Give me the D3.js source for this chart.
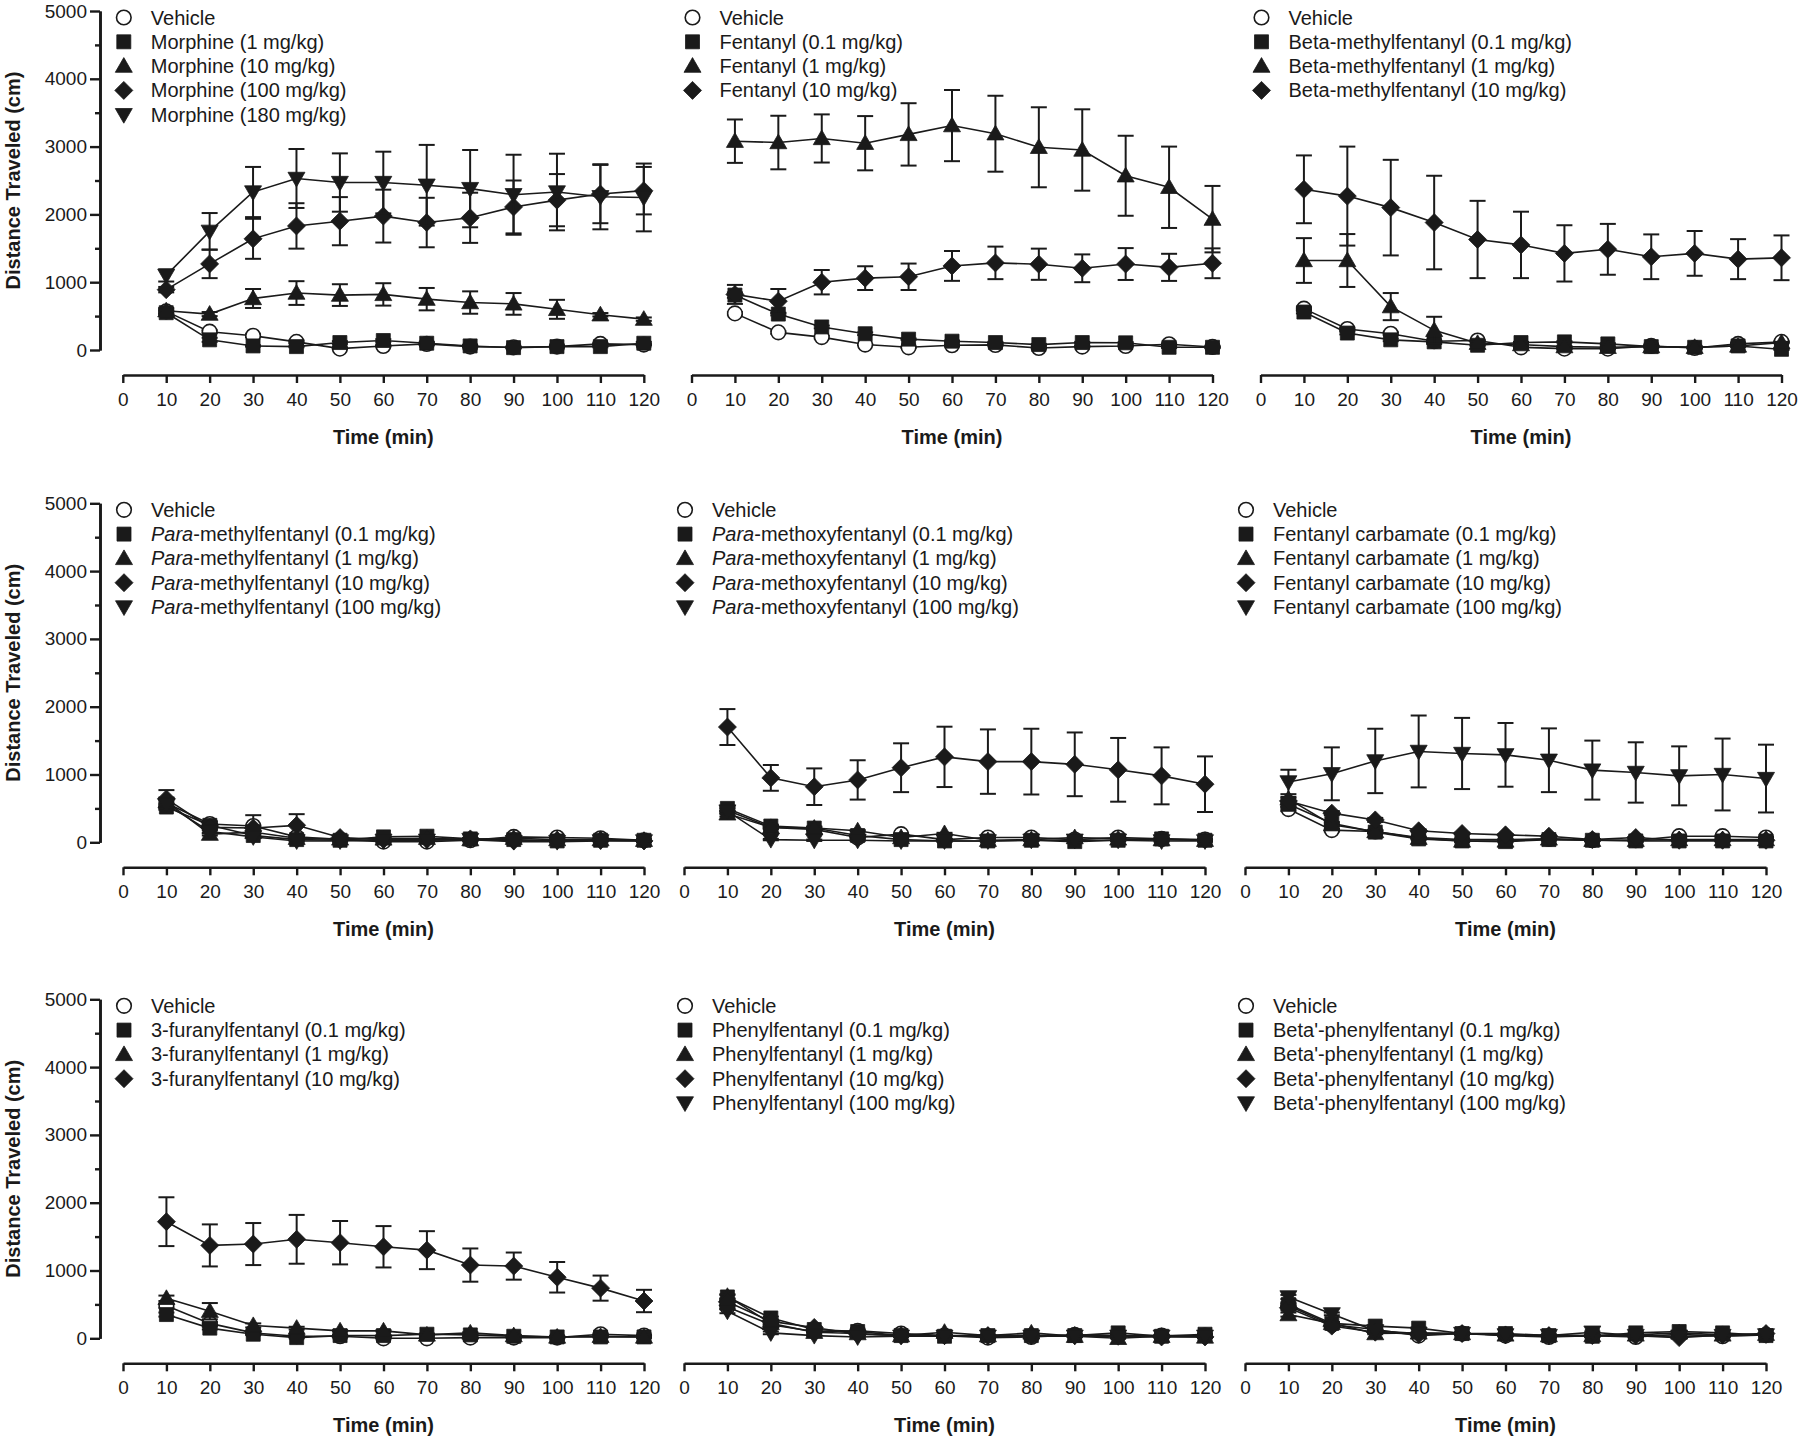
<!DOCTYPE html>
<html>
<head>
<meta charset="utf-8">
<script src="https://cdn.jsdelivr.net/npm/d3@7"></script>
<style>
  html, body { margin: 0; padding: 0; background: #fff; }
  svg { display: block; }
  text { font-family: "Liberation Sans", Arial, Helvetica, sans-serif; fill: #1a1a1a; }
</style>
</head>
<body>
<svg id="chart" width="1800" height="1440"></svg>
<script>
// ---------------- DATA ----------------
const timePoints = [10, 20, 30, 40, 50, 60, 70, 80, 90, 100, 110, 120];
const xTickValues = [0, 10, 20, 30, 40, 50, 60, 70, 80, 90, 100, 110, 120];
const yTickValues = [0, 1000, 2000, 3000, 4000, 5000];
const yMinorTickValues = [500, 1500, 2500, 3500, 4500];
const yAxisTitle = "Distance Traveled (cm)";
const xAxisTitle = "Time (min)";
// marker shape per series (by position in each panel)
const seriesShapes = ["circle", "square", "triangle", "diamond", "triangleDown"];

// Panel A: Morphine
const labelsA = ["Vehicle", "Morphine (1 mg/kg)", "Morphine (10 mg/kg)", "Morphine (100 mg/kg)", "Morphine (180 mg/kg)"];
const meansA = [
  [570, 270, 210, 120, 20, 60, 90, 50, 40, 50, 90, 80],
  [550, 150, 60, 50, 110, 140, 100, 60, 35, 50, 50, 100],
  [580, 530, 760, 840, 810, 820, 750, 700, 680, 600, 520, 455],
  [890, 1270, 1640, 1830, 1900, 1975, 1880, 1950, 2110, 2210, 2300, 2350],
  [1100, 1750, 2330, 2530, 2470, 2470, 2430, 2380, 2290, 2330, 2260, 2250]
];
const errorsA = [
  [30, 20, 20, 20, 10, 10, 10, 10, 10, 10, 10, 10],
  [30, 30, 10, 10, 20, 20, 20, 10, 10, 10, 10, 20],
  [40, 30, 140, 175, 160, 165, 165, 165, 160, 140, 25, 25],
  [40, 210, 295, 335, 355, 390, 365, 370, 390, 385, 430, 350],
  [90, 270, 370, 435, 430, 455, 595, 570, 590, 565, 480, 500]
];

// Panel B: Fentanyl
const labelsB = ["Vehicle", "Fentanyl (0.1 mg/kg)", "Fentanyl (1 mg/kg)", "Fentanyl (10 mg/kg)"];
const meansB = [
  [540, 260, 190, 80, 40, 70, 75, 30, 50, 60, 85, 45],
  [810, 530, 340, 240, 160, 130, 110, 80, 110, 106, 40, 40],
  [3080, 3060, 3120, 3050, 3180, 3310, 3190, 2990, 2950, 2570, 2400, 1930],
  [820, 720, 1000, 1060, 1080, 1240, 1285, 1265, 1205, 1268, 1219, 1279]
];
const errorsB = [
  [20, 20, 20, 10, 10, 10, 10, 10, 10, 10, 10, 10],
  [40, 20, 20, 20, 10, 10, 10, 10, 10, 10, 10, 10],
  [320, 395, 355, 400, 460, 525, 560, 590, 600, 590, 600, 490],
  [140, 180, 180, 175, 195, 220, 240, 230, 205, 235, 200, 220]
];

// Panel C: Beta-methylfentanyl
const labelsC = ["Vehicle", "Beta-methylfentanyl (0.1 mg/kg)", "Beta-methylfentanyl (1 mg/kg)", "Beta-methylfentanyl (10 mg/kg)"];
const meansC = [
  [610, 310, 240, 130, 140, 40, 20, 20, 60, 30, 90, 120],
  [560, 250, 150, 120, 70, 110, 120, 90, 50, 40, 60, 10],
  [1320, 1320, 640, 290, 100, 80, 50, 40, 50, 40, 60, 110],
  [2370, 2270, 2100, 1880, 1630, 1550, 1425, 1485, 1375, 1425, 1340, 1360]
];
const errorsC = [
  [20, 20, 20, 10, 10, 10, 10, 10, 10, 10, 10, 10],
  [20, 20, 20, 10, 10, 10, 10, 10, 10, 10, 10, 10],
  [330, 390, 200, 200, 20, 10, 10, 10, 10, 10, 10, 10],
  [500, 730, 705, 690, 570, 490, 415, 375, 330, 330, 295, 330]
];

// Panel D: Para-methylfentanyl
const labelsD = ["Vehicle", "Para-methylfentanyl (0.1 mg/kg)", "Para-methylfentanyl (1 mg/kg)", "Para-methylfentanyl (10 mg/kg)", "Para-methylfentanyl (100 mg/kg)"];
const meansD = [
  [580, 270, 240, 80, 40, 10, 10, 30, 80, 70, 60, 30],
  [520, 250, 100, 40, 30, 80, 90, 50, 40, 20, 30, 30],
  [600, 120, 150, 60, 50, 50, 60, 40, 60, 40, 40, 30],
  [640, 220, 210, 250, 70, 40, 40, 50, 20, 30, 30, 20],
  [560, 160, 80, 20, 20, 30, 30, 40, 10, 10, 20, 20]
];
const errorsD = [
  [60, 40, 160, 20, 10, 10, 10, 10, 10, 10, 10, 10],
  [40, 30, 20, 10, 10, 10, 10, 10, 10, 10, 10, 10],
  [60, 20, 20, 20, 10, 10, 10, 10, 10, 10, 10, 10],
  [130, 40, 40, 165, 20, 10, 10, 10, 10, 10, 10, 10],
  [60, 30, 20, 10, 10, 10, 10, 10, 10, 10, 10, 10]
];

// Panel E: Para-methoxyfentanyl
const labelsE = ["Vehicle", "Para-methoxyfentanyl (0.1 mg/kg)", "Para-methoxyfentanyl (1 mg/kg)", "Para-methoxyfentanyl (10 mg/kg)", "Para-methoxyfentanyl (100 mg/kg)"];
const meansE = [
  [470, 220, 190, 70, 120, 40, 70, 70, 40, 70, 50, 40],
  [500, 240, 210, 100, 40, 20, 20, 30, 10, 30, 50, 30],
  [420, 220, 210, 170, 70, 130, 30, 40, 70, 50, 40, 30],
  [1700, 950, 820, 920, 1100, 1260, 1190, 1190, 1150, 1069, 980, 857],
  [460, 40, 30, 30, 20, 20, 20, 30, 30, 30, 20, 20]
];
const errorsE = [
  [40, 20, 20, 10, 10, 10, 10, 10, 10, 10, 10, 10],
  [40, 20, 20, 10, 10, 10, 10, 10, 10, 10, 10, 10],
  [40, 20, 20, 10, 10, 10, 10, 10, 10, 10, 10, 10],
  [265, 190, 270, 290, 360, 445, 475, 485, 470, 470, 420, 410],
  [40, 10, 10, 10, 10, 10, 10, 10, 10, 10, 10, 10]
];

// Panel F: Fentanyl carbamate
const labelsF = ["Vehicle", "Fentanyl carbamate (0.1 mg/kg)", "Fentanyl carbamate (1 mg/kg)", "Fentanyl carbamate (10 mg/kg)", "Fentanyl carbamate (100 mg/kg)"];
const meansF = [
  [490, 180, 160, 70, 40, 40, 50, 30, 30, 90, 90, 70],
  [560, 280, 150, 50, 20, 10, 40, 30, 20, 20, 20, 20],
  [640, 260, 160, 60, 20, 20, 50, 30, 30, 40, 40, 40],
  [610, 430, 330, 170, 130, 110, 90, 40, 70, 30, 30, 30],
  [890, 1010, 1200, 1340, 1310, 1290, 1210, 1065, 1030, 980, 1000, 940]
];
const errorsF = [
  [30, 20, 20, 10, 10, 10, 10, 10, 10, 10, 10, 10],
  [30, 20, 20, 10, 10, 10, 10, 10, 10, 10, 10, 10],
  [30, 20, 20, 10, 10, 10, 10, 10, 10, 10, 10, 10],
  [40, 30, 30, 20, 10, 10, 10, 10, 10, 10, 10, 10],
  [180, 390, 475, 530, 525, 470, 470, 435, 445, 435, 530, 500]
];

// Panel G: 3-furanylfentanyl
const labelsG = ["Vehicle", "3-furanylfentanyl (0.1 mg/kg)", "3-furanylfentanyl (1 mg/kg)", "3-furanylfentanyl (10 mg/kg)"];
const meansG = [
  [480, 220, 80, 30, 30, 0, 0, 10, 10, 10, 60, 40],
  [350, 150, 60, 10, 40, 40, 60, 50, 30, 20, 20, 20],
  [590, 400, 190, 150, 110, 110, 50, 80, 40, 20, 30, 20],
  [1720, 1370, 1390, 1460, 1410, 1350, 1300, 1080, 1065, 900, 740, 550]
];
const errorsG = [
  [30, 20, 10, 10, 10, 10, 10, 10, 10, 10, 10, 10],
  [30, 20, 10, 10, 10, 10, 10, 10, 10, 10, 10, 10],
  [40, 120, 30, 20, 10, 10, 10, 10, 10, 10, 10, 10],
  [360, 310, 310, 360, 320, 305, 280, 245, 200, 225, 185, 165]
];

// Panel H: Phenylfentanyl
const labelsH = ["Vehicle", "Phenylfentanyl (0.1 mg/kg)", "Phenylfentanyl (1 mg/kg)", "Phenylfentanyl (10 mg/kg)", "Phenylfentanyl (100 mg/kg)"];
const meansH = [
  [460, 200, 100, 110, 70, 40, 10, 20, 50, 40, 40, 40],
  [610, 300, 130, 100, 40, 30, 40, 40, 40, 80, 30, 60],
  [620, 220, 90, 70, 40, 90, 40, 80, 30, 0, 30, 20],
  [540, 250, 160, 60, 40, 40, 40, 40, 40, 30, 20, 20],
  [400, 80, 40, 20, 30, 30, 30, 30, 30, 30, 30, 30]
];
const errorsH = [
  [30, 20, 10, 10, 10, 10, 10, 10, 10, 10, 10, 10],
  [30, 20, 10, 10, 10, 10, 10, 10, 10, 10, 10, 10],
  [30, 20, 10, 10, 10, 10, 10, 10, 10, 10, 10, 10],
  [30, 20, 10, 10, 10, 10, 10, 10, 10, 10, 10, 10],
  [30, 20, 10, 10, 10, 10, 10, 10, 10, 10, 10, 10]
];

// Panel I: Beta'-phenylfentanyl
const labelsI = ["Vehicle", "Beta'-phenylfentanyl (0.1 mg/kg)", "Beta'-phenylfentanyl (1 mg/kg)", "Beta'-phenylfentanyl (10 mg/kg)", "Beta'-phenylfentanyl (100 mg/kg)"];
const meansI = [
  [480, 200, 130, 40, 70, 40, 20, 40, 20, 60, 30, 50],
  [500, 220, 180, 150, 70, 70, 40, 30, 80, 100, 80, 40],
  [350, 220, 70, 80, 70, 50, 40, 40, 50, 80, 50, 60],
  [450, 180, 90, 60, 70, 50, 40, 40, 40, 10, 50, 70],
  [610, 360, 110, 70, 70, 50, 40, 90, 40, 30, 40, 50]
];
const errorsI = [
  [30, 20, 10, 10, 10, 10, 10, 10, 10, 10, 10, 10],
  [30, 20, 10, 10, 10, 10, 10, 10, 10, 10, 10, 10],
  [30, 20, 10, 10, 10, 10, 10, 10, 10, 10, 10, 10],
  [30, 20, 10, 10, 10, 10, 10, 10, 10, 10, 10, 10],
  [30, 20, 10, 10, 10, 10, 10, 10, 10, 10, 10, 10]
];

// ---------------- LAYOUT ----------------
const panelList = [
  { labels: labelsA, means: meansA, errors: errorsA, row: 0, col: 0 },
  { labels: labelsB, means: meansB, errors: errorsB, row: 0, col: 1 },
  { labels: labelsC, means: meansC, errors: errorsC, row: 0, col: 2 },
  { labels: labelsD, means: meansD, errors: errorsD, row: 1, col: 0 },
  { labels: labelsE, means: meansE, errors: errorsE, row: 1, col: 1 },
  { labels: labelsF, means: meansF, errors: errorsF, row: 1, col: 2 },
  { labels: labelsG, means: meansG, errors: errorsG, row: 2, col: 0 },
  { labels: labelsH, means: meansH, errors: errorsH, row: 2, col: 1 },
  { labels: labelsI, means: meansI, errors: errorsI, row: 2, col: 2 }
];
const rowZeroY = [350, 842.3, 1338.3];
const plotHeight = 339;
const colX0 = [[122.8, 691.5, 1260.5], [123, 684, 1245], [123, 684, 1245]];
const plotWidth = 521;
const yAxisX = 100;
const ink = "#1a1a1a";
const tickFontSize = 19;
const legendFontSize = 20;

function shapePath(type) {
  switch (type) {
    case "circle": return d3.symbol().type(d3.symbolCircle).size(Math.PI * 7.3 * 7.3)();
    case "square": return "M-7,-7H7V7H-7Z";
    case "triangle": return "M0,-8.5L8.5,6.2L-8.5,6.2Z";
    case "triangleDown": return "M0,8.5L8.5,-6.2L-8.5,-6.2Z";
    case "diamond": return "M0,-9L9,0L0,9L-9,0Z";
  }
}

const svg = d3.select("#chart");

panelList.forEach(p => {
  const zeroY = rowZeroY[p.row];
  const x0 = colX0[p.row][p.col];
  const x = d3.scaleLinear().domain([0, 120]).range([x0, x0 + plotWidth]);
  const y = d3.scaleLinear().domain([0, 5000]).range([zeroY, zeroY - plotHeight]);
  const g = svg.append("g");

  // X axis (offset below)
  const xAxisY = zeroY + 25;
  const xAxis = g.append("g")
    .attr("transform", `translate(0,${xAxisY})`)
    .call(d3.axisBottom(x).tickValues(xTickValues).tickSize(8).tickSizeOuter(0).tickPadding(9.5));
  xAxis.select(".domain").attr("stroke", ink).attr("stroke-width", 2.6);
  xAxis.selectAll(".tick line").attr("stroke", ink).attr("stroke-width", 2.4);
  xAxis.selectAll(".tick text").attr("font-size", tickFontSize).attr("fill", ink)
    .style("font-family", '"Liberation Sans", Arial, sans-serif');

  g.append("text")
    .attr("x", x(60)).attr("y", xAxisY + 62)
    .attr("text-anchor", "middle").attr("dominant-baseline", "central")
    .attr("font-size", 20).attr("font-weight", "bold")
    .text(xAxisTitle);

  // Y axis only in first column
  if (p.col === 0) {
    const yAxisG = g.append("g").attr("transform", `translate(${yAxisX},0)`);
    yAxisG.call(d3.axisLeft(y).tickValues(yMinorTickValues).tickSize(5).tickSizeOuter(0).tickFormat(""));
    const major = g.append("g").attr("transform", `translate(${yAxisX},0)`)
      .call(d3.axisLeft(y).tickValues(yTickValues).tickSize(10).tickSizeOuter(0).tickPadding(3).tickFormat(d3.format("d")));
    [yAxisG, major].forEach(a => {
      a.select(".domain").attr("stroke", ink).attr("stroke-width", 2.6);
      a.selectAll(".tick line").attr("stroke", ink).attr("stroke-width", 2.4);
    });
    major.selectAll(".tick text").attr("font-size", tickFontSize).attr("fill", ink)
      .style("font-family", '"Liberation Sans", Arial, sans-serif');
    g.append("text")
      .attr("transform", `translate(13,${(y(0) + y(5000)) / 2}) rotate(-90)`)
      .attr("text-anchor", "middle").attr("dominant-baseline", "central")
      .attr("font-size", 20).attr("font-weight", "bold")
      .text(yAxisTitle);
  }

  // Series
  const line = d3.line().x(d => x(d.t)).y(d => y(d.v));
  p.means.forEach((vals, si) => {
    const pts = timePoints.map((t, i) => ({ t, v: vals[i], e: p.errors[si][i] }));
    const sg = g.append("g");
    // error bars
    pts.forEach(d => {
      if (!d.e) return;
      const xc = x(d.t), yt = y(d.v + d.e), yb = y(Math.max(0, d.v - d.e));
      sg.append("line").attr("x1", xc).attr("x2", xc).attr("y1", yt).attr("y2", yb)
        .attr("stroke", ink).attr("stroke-width", 2);
      [yt, yb].forEach(yy => sg.append("line")
        .attr("x1", xc - 8).attr("x2", xc + 8).attr("y1", yy).attr("y2", yy)
        .attr("stroke", ink).attr("stroke-width", 2));
    });
    sg.append("path").datum(pts).attr("d", line)
      .attr("fill", "none").attr("stroke", ink).attr("stroke-width", 1.6);
    const shape = seriesShapes[si];
    sg.selectAll("path.m").data(pts).enter().append("path").attr("class", "m")
      .attr("d", shapePath(shape))
      .attr("transform", d => `translate(${x(d.t)},${y(d.v)})`)
      .attr("fill", shape === "circle" ? "#fff" : ink)
      .attr("stroke", ink).attr("stroke-width", shape === "circle" ? 1.6 : 0.8);
  });

  // Legend
  const legY0 = zeroY - 332.5;
  p.labels.forEach((lab, si) => {
    const ly = legY0 + si * 24.3;
    const shape = seriesShapes[si];
    g.append("path").attr("d", shapePath(shape))
      .attr("transform", `translate(${x0 + 1},${ly})`)
      .attr("fill", shape === "circle" ? "#fff" : ink)
      .attr("stroke", ink).attr("stroke-width", shape === "circle" ? 1.6 : 0.8);
    const t = g.append("text").attr("x", x0 + 28).attr("y", ly)
      .attr("dominant-baseline", "central").attr("font-size", legendFontSize);
    if (lab.startsWith("Para-")) {
      t.append("tspan").attr("font-style", "italic").text("Para");
      t.append("tspan").text(lab.slice(4));
    } else {
      t.text(lab);
    }
  });
});
</script>
</body>
</html>
